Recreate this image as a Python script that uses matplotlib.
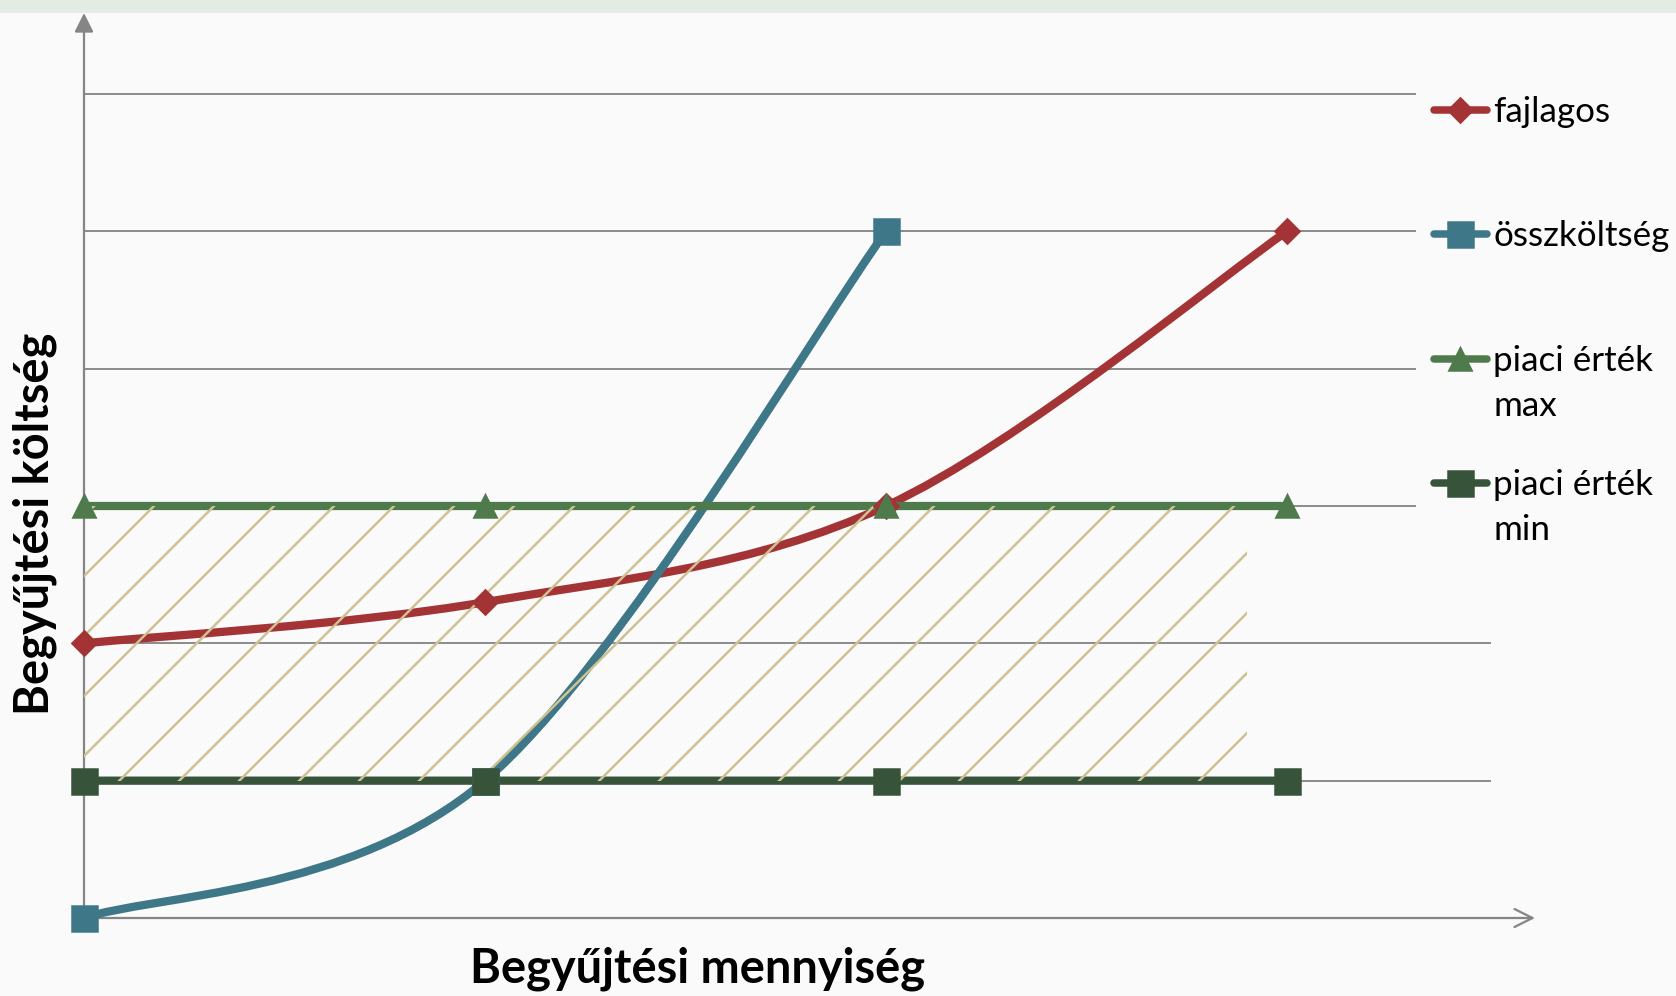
import matplotlib.pyplot as plt
from matplotlib.path import Path
from matplotlib.patches import PathPatch, Rectangle
from matplotlib.lines import Line2D

# adatok
kategoriak = [0, 1, 2, 3]
fajlagos = [2.0, 2.3, 3.0, 5.0]
osszkoltseg = [0.0, 1.0, 5.0]
piaci_max = [3, 3, 3, 3]
piaci_min = [1, 1, 1, 1]
cimkek = ["fajlagos", "összköltség", "piaci érték\nmax", "piaci érték\nmin"]
racsvonalak = [1, 2, 3, 4, 5, 6]
sav_vege = 2.9  # a sraffozott sáv jobb széle (kategória-egységben)

sorozatok = [fajlagos, osszkoltseg, piaci_max, piaci_min]
szinek = ["#A33334", "#3E7788", "#4F7B4C", "#37533A"]
jelolok = ["D", "s", "^", "s"]
meretek = [7, 10, 9, 10]

plt.rcParams["font.family"] = ["Lato", "DejaVu Sans"]
plt.rcParams["hatch.linewidth"] = 1.0


# Excel-szerű simított vonal: Bezier-görbe a pontokon át
def simitott_ut(xs, ys):
    pts = list(zip(xs, ys))
    verts = [pts[0]]
    codes = [Path.MOVETO]
    n = len(pts)
    for i in range(n - 1):
        p0 = pts[i - 1] if i > 0 else pts[i]
        p1 = pts[i]
        p2 = pts[i + 1]
        p3 = pts[i + 2] if i + 2 < n else pts[i + 1]
        c1 = (p1[0] + (p2[0] - p0[0]) / 6, p1[1] + (p2[1] - p0[1]) / 6)
        c2 = (p2[0] - (p3[0] - p1[0]) / 6, p2[1] - (p3[1] - p1[1]) / 6)
        verts += [c1, c2, p2]
        codes += [Path.CURVE4] * 3
    return Path(verts, codes)


W, H, DPI = 1676, 996, 180
fig = plt.figure(figsize=(W / DPI, H / DPI), dpi=DPI, facecolor="#F9FAF9")
# halvány zöld sáv a kép tetején
fig.patches.append(Rectangle((0, 1 - 13 / H), 1, 13 / H, transform=fig.transFigure,
                             facecolor="#E3ECE3", edgecolor="none", zorder=0))

ax = fig.add_axes([84 / W, (H - 918) / H, (1535 - 84) / W, (918 - 13) / H])
ax.set_facecolor("none")
ax.set_xlim(0, (1535 - 84) / 401)
ax.set_ylim(0, (918 - 13) / 137.33)
for s in ax.spines.values():
    s.set_visible(False)
ax.set_xticks([])
ax.set_yticks([])

# rácsvonalak
for y in racsvonalak:
    vege = 0.917 if y >= 3 else 0.969
    ax.axhline(y, xmin=0, xmax=vege, color="#8E8E8E", lw=0.8, zorder=1)

# tengelyek nyíllal
ax.annotate("", xy=(0, 1), xytext=(0, 0), xycoords="axes fraction",
            arrowprops=dict(arrowstyle="-|>", color="#858585", lw=0.9,
                            mutation_scale=16, shrinkA=0, shrinkB=0), zorder=1)
ax.annotate("", xy=(1, 0), xytext=(0, 0), xycoords="axes fraction",
            arrowprops=dict(arrowstyle="->", color="#858585", lw=0.9,
                            mutation_scale=18, shrinkA=0, shrinkB=0), zorder=1)

# sorozatok
for ys, c, m, ms in zip(sorozatok, szinek, jelolok, meretek):
    xs = kategoriak[:len(ys)]
    ax.add_patch(PathPatch(simitott_ut(xs, ys), facecolor="none", edgecolor=c,
                           lw=3.3, capstyle="round", joinstyle="round",
                           clip_on=False, zorder=2))
    ax.plot(xs, ys, linestyle="none", marker=m, ms=ms, color=c, mec=c,
            clip_on=False, zorder=4)

# sraffozott sáv a piaci érték min és max között
ax.add_patch(Rectangle((0, piaci_min[0]), sav_vege, piaci_max[0] - piaci_min[0],
                       facecolor="none", edgecolor="#CEC293", lw=0, hatch="/",
                       zorder=3))

# tengelyfeliratok
fig.text(697 / W, 1 - 969 / H, "Begyűjtési mennyiség", ha="center", va="center",
         fontsize=18.8, fontweight="bold", color="black")
fig.text(35 / W, 1 - 524 / H, "Begyűjtési költség", ha="center", va="center",
         rotation=90, fontsize=18.8, fontweight="bold", color="black")

# jelmagyarázat
leg_y = [110, 234, 359, 483]
for y, c, m, ms, lab in zip(leg_y, szinek, jelolok, meretek, cimkek):
    yf = 1 - y / H
    fig.add_artist(Line2D([1434 / W, 1487 / W], [yf, yf], transform=fig.transFigure,
                          color=c, lw=3.0, solid_capstyle="round"))
    fig.add_artist(Line2D([1460 / W], [yf], transform=fig.transFigure,
                          marker=m, ms=ms, color=c, mec=c, linestyle="none"))
    for k, sor in enumerate(lab.split("\n")):
        fig.text(1493 / W, 1 - (y + 12 + 45 * k) / H, sor, ha="left", va="baseline",
                 fontsize=14, color="black")

fig.savefig("out.png", dpi=DPI, facecolor=fig.get_facecolor())
